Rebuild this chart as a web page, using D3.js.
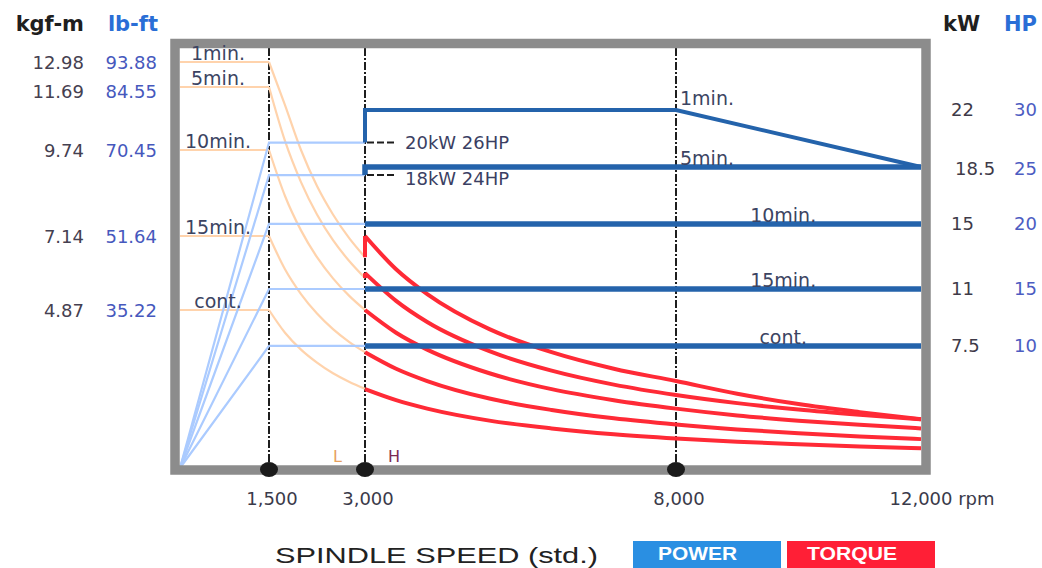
<!DOCTYPE html>
<html>
<head>
<meta charset="utf-8">
<script src="https://cdn.jsdelivr.net/npm/d3@7"></script>
<style>
  html, body { margin: 0; padding: 0; background: #fff; }
  svg { display: block; }
</style>
</head>
<body>
<div id="chart"></div>
<script>
// bottom axis (rpm)
var rpmTicks = [1500, 3000, 8000, 12000];
var rpmTickLabels = ["1,500", "3,000", "8,000", "12,000"];

var periods = ["1min.", "5min.", "10min.", "15min.", "cont."];

// left axis: torque levels (at 1,500 rpm)
var torqueKgf = [12.98, 11.69, 9.74, 7.14, 4.87];
var torqueLbft = [93.88, 84.55, 70.45, 51.64, 35.22];

// right axis: power levels
var powerKw = [22, 18.5, 15, 11, 7.5];
var powerHp = [30, 25, 20, 15, 10];

// L winding: power reached at 1,500 rpm (kW)
var powerLowKw = [20, 18, 15, 11, 7.5];

// H winding power [rpm, kW]
var powerHigh = [
  [[3000, 20], [3000, 22], [8000, 22], [12000, 18.5]],
  [[3000, 18], [3000, 18.5], [12000, 18.5]],
  [[3000, 15], [12000, 15]],
  [[3000, 11], [12000, 11]],
  [[3000, 7.5], [12000, 7.5]]
];

// L winding torque [rpm, kgf-m]
var torqueLow = [
  [[0, 12.98], [1500, 12.98], [1750, 11.13], [2000, 9.74], [2250, 8.65], [2500, 7.79], [2750, 7.08], [3000, 6.49]],
  [[0, 11.69], [1500, 11.69], [1750, 10.02], [2000, 8.77], [2250, 7.79], [2500, 7.01], [2750, 6.38], [3000, 5.85]],
  [[0, 9.74], [1500, 9.74], [1750, 8.35], [2000, 7.31], [2250, 6.49], [2500, 5.84], [2750, 5.31], [3000, 4.87]],
  [[0, 7.14], [1500, 7.14], [1750, 6.12], [2000, 5.36], [2250, 4.76], [2500, 4.28], [2750, 3.89], [3000, 3.57]],
  [[0, 4.87], [1500, 4.87], [1750, 4.17], [2000, 3.65], [2250, 3.25], [2500, 2.92], [2750, 2.66], [3000, 2.44]]
];

// H winding torque [rpm, kgf-m]
var torqueHigh = [
  [[3000, 6.49], [3000, 7.14], [3500, 6.12], [4000, 5.36], [5000, 4.28], [6000, 3.57], [7000, 3.06], [8000, 2.68], [9000, 2.29], [10000, 1.97], [11000, 1.72], [12000, 1.50]],
  [[3000, 5.85], [3000, 6.00], [3500, 5.15], [4000, 4.50], [5000, 3.60], [6000, 3.00], [7000, 2.57], [8000, 2.25], [9000, 2.00], [10000, 1.80], [11000, 1.64], [12000, 1.50]],
  [[3000, 4.87], [3500, 4.17], [4000, 3.65], [5000, 2.92], [6000, 2.43], [7000, 2.09], [8000, 1.83], [9000, 1.62], [10000, 1.46], [11000, 1.33], [12000, 1.22]],
  [[3000, 3.57], [3500, 3.06], [4000, 2.68], [5000, 2.14], [6000, 1.79], [7000, 1.53], [8000, 1.34], [9000, 1.19], [10000, 1.07], [11000, 0.97], [12000, 0.89]],
  [[3000, 2.43], [3500, 2.09], [4000, 1.83], [5000, 1.46], [6000, 1.22], [7000, 1.04], [8000, 0.91], [9000, 0.81], [10000, 0.73], [11000, 0.66], [12000, 0.61]]
];

var W = 1042, H = 568;
var plot = {left: 180, right: 921, top: 48, bottom: 466};
var numFont = "DejaVu Sans, Verdana, sans-serif";

var svg = d3.select("#chart").append("svg")
  .attr("width", W)
  .attr("height", H);

var x = d3.scaleLinear()
  .domain([0].concat(rpmTicks))
  .range([180, 269, 365, 676, 921]);

var yPow = d3.scaleLinear()
  .domain([0, 22])
  .range([468, 110]);

var yTq = d3.scaleLinear()
  .domain([0].concat(torqueKgf.slice().reverse()))
  .range([468, 310, 236, 150, 87, 62]);

// straight part first (flat / vertical step), smooth hyperbola after
function drawCurve(g, pts, yS, color, width) {
  var i = 0;
  while (i < pts.length - 1 && (pts[i][0] === pts[i + 1][0] || pts[i][1] === pts[i + 1][1])) i++;
  var straight = d3.line().x(function(d) { return x(d[0]); }).y(function(d) { return yS(d[1]); });
  var smooth = d3.line().x(function(d) { return x(d[0]); }).y(function(d) { return yS(d[1]); })
    .curve(d3.curveMonotoneX);
  if (i > 0) {
    g.append("path").attr("d", straight(pts.slice(0, i + 1)))
      .attr("fill", "none").attr("stroke", color).attr("stroke-width", width);
  }
  if (i < pts.length - 1) {
    g.append("path").attr("d", smooth(pts.slice(i)))
      .attr("fill", "none").attr("stroke", color).attr("stroke-width", width);
  }
}

var lines = svg.append("g");

// dashed guides at 1500 / 3000 / 8000
lines.selectAll(".guide")
  .data(rpmTicks.slice(0, 3))
  .enter()
  .append("line")
  .attr("x1", function(d) { return x(d); })
  .attr("x2", function(d) { return x(d); })
  .attr("y1", plot.top)
  .attr("y2", plot.bottom)
  .attr("stroke", "#1e1e1e")
  .attr("stroke-width", 2)
  .attr("stroke-dasharray", "8,2,2,2");

// L winding torque (orange)
torqueLow.forEach(function(s) { drawCurve(lines, s, yTq, "#ffd3ac", 2.2); });

// L winding power (light blue)
var lineLin = d3.line().x(function(d) { return x(d[0]); }).y(function(d) { return yPow(d[1]); });
powerLowKw.forEach(function(p) {
  lines.append("path")
    .attr("d", lineLin([[0, 0], [1500, p], [3000, p]]))
    .attr("fill", "none")
    .attr("stroke", "#abcbff")
    .attr("stroke-width", 2.2);
});

// H winding torque (red)
torqueHigh.forEach(function(s) { drawCurve(lines, s, yTq, "#ff2a36", 4); });

// H winding power (blue)
powerHigh.forEach(function(s, i) {
  lines.append("path")
    .attr("d", lineLin(s))
    .attr("fill", "none")
    .attr("stroke", "#2463ab")
    .attr("stroke-width", i === 0 ? 4 : 5.5);
});

// step markers at 3000
[20, 18].forEach(function(p, i) {
  lines.append("line")
    .attr("x1", x(3000) + 2).attr("x2", x(3000) + 30)
    .attr("y1", yPow(p)).attr("y2", yPow(p))
    .attr("stroke", "#1e1e1e").attr("stroke-width", 2)
    .attr("stroke-dasharray", "7,3");
  svg.append("text")
    .attr("x", x(3000) + 40)
    .attr("y", yPow(p) + (i === 0 ? 0 : 3))
    .attr("dy", "0.36em")
    .style("font-family", numFont)
    .style("font-size", "18px")
    .style("fill", "#3b3f63")
    .text(p + "kW " + (i === 0 ? 26 : 24) + "HP");
});

// frame
svg.append("rect")
  .attr("x", 175)
  .attr("y", 43.5)
  .attr("width", 751)
  .attr("height", 426.5)
  .attr("fill", "none")
  .attr("stroke", "#8c8c8c")
  .attr("stroke-width", 9.5);

// axis dots
svg.selectAll(".dot")
  .data(rpmTicks.slice(0, 3))
  .enter()
  .append("ellipse")
  .attr("cx", function(d) { return x(d); })
  .attr("cy", 469.5)
  .attr("rx", 9)
  .attr("ry", 7.5)
  .attr("fill", "#1b1b1b");

// tick labels
var tickG = svg.append("g")
  .style("font-family", numFont)
  .style("font-size", "18px")
  .style("fill", "#3a3a4a");
rpmTickLabels.forEach(function(t, i) {
  tickG.append("text")
    .attr("x", x(rpmTicks[i]) + 3)
    .attr("y", 505)
    .attr("text-anchor", "middle")
    .text(t);
});
var lastTick = tickG.select("text:last-child");
var half = lastTick.node().getComputedTextLength() / 2;
lastTick.attr("text-anchor", "start").attr("x", x(12000) - half).text("12,000 rpm");

// L / H
svg.append("text").attr("x", 333).attr("y", 462)
  .style("font-family", numFont).style("font-size", "16px").style("fill", "#e6a05e").text("L");
svg.append("text").attr("x", 388).attr("y", 462)
  .style("font-family", numFont).style("font-size", "16px").style("fill", "#7d2a52").text("H");

// headers
function header(txt, xp, anchor, color) {
  svg.append("text")
    .attr("x", xp).attr("y", 31)
    .attr("text-anchor", anchor)
    .style("font-family", numFont)
    .style("font-size", "21px")
    .style("font-weight", "bold")
    .style("fill", color)
    .text(txt);
}
header("kgf-m", 84, "end", "#1f1f1f");
header("lb-ft", 158, "end", "#2a6ed6");
header("kW", 943, "start", "#1f1f1f");
header("HP", 1037, "end", "#2a6ed6");

// left torque values
torqueKgf.forEach(function(t, i) {
  svg.append("text")
    .attr("x", 84).attr("y", yTq(t) + (i === 1 ? 5 : 1))
    .attr("dy", "0.36em").attr("text-anchor", "end")
    .style("font-family", numFont).style("font-size", "18px").style("fill", "#454050")
    .text(t.toFixed(2));
  svg.append("text")
    .attr("x", 157).attr("y", yTq(t) + (i === 1 ? 5 : 1))
    .attr("dy", "0.36em").attr("text-anchor", "end")
    .style("font-family", numFont).style("font-size", "18px").style("fill", "#4658bd")
    .text(torqueLbft[i].toFixed(2));
  // period label over the torque line
  svg.append("text")
    .attr("x", 218).attr("y", yTq(t) - 2)
    .attr("text-anchor", "middle")
    .style("font-family", numFont).style("font-size", "19px").style("fill", "#3c4462")
    .text(periods[i]);
});

// right power values
powerKw.forEach(function(p, i) {
  svg.append("text")
    .attr("x", i === 1 ? 955 : 951).attr("y", yPow(p) + (i === 1 ? 2 : 0))
    .attr("dy", "0.36em")
    .style("font-family", numFont).style("font-size", "18px").style("fill", "#3e3a48")
    .text(p);
  svg.append("text")
    .attr("x", 1037).attr("y", yPow(p) + (i === 1 ? 2 : 0))
    .attr("dy", "0.36em").attr("text-anchor", "end")
    .style("font-family", numFont).style("font-size", "18px").style("fill", "#4c5cc2")
    .text(powerHp[i]);
});

// period labels on power lines
periods.forEach(function(lbl, i) {
  var onLeft = i < 2;
  svg.append("text")
    .attr("x", onLeft ? x(8000) + 4 : x(9750))
    .attr("y", yPow(i === 0 ? 22 : powerKw[i]) - (i === 0 ? 5 : 2))
    .attr("text-anchor", onLeft ? "start" : "middle")
    .style("font-family", numFont).style("font-size", "19px").style("fill", "#3c4462")
    .text(lbl);
});

// title
svg.append("text")
  .attr("x", 275).attr("y", 563)
  .attr("textLength", 323)
  .attr("lengthAdjust", "spacingAndGlyphs")
  .style("font-family", "Liberation Sans, Arial, sans-serif")
  .style("font-size", "22px")
  .style("fill", "#222")
  .text("SPINDLE SPEED (std.)");

// legend
var legend = [
  {name: "POWER", color: "#2a8fe2", x: 633, tx: 658, len: 79},
  {name: "TORQUE", color: "#ff1f36", x: 787, tx: 807, len: 90}
];
legend.forEach(function(d) {
  svg.append("rect").attr("x", d.x).attr("y", 541).attr("width", 148).attr("height", 30)
    .attr("fill", d.color);
  svg.append("text").attr("x", d.tx).attr("y", 560)
    .attr("textLength", d.len).attr("lengthAdjust", "spacingAndGlyphs")
    .style("font-family", "Liberation Sans, Arial, sans-serif")
    .style("font-size", "18px").style("font-weight", "bold")
    .style("fill", "#fff")
    .text(d.name);
});
</script>
</body>
</html>
